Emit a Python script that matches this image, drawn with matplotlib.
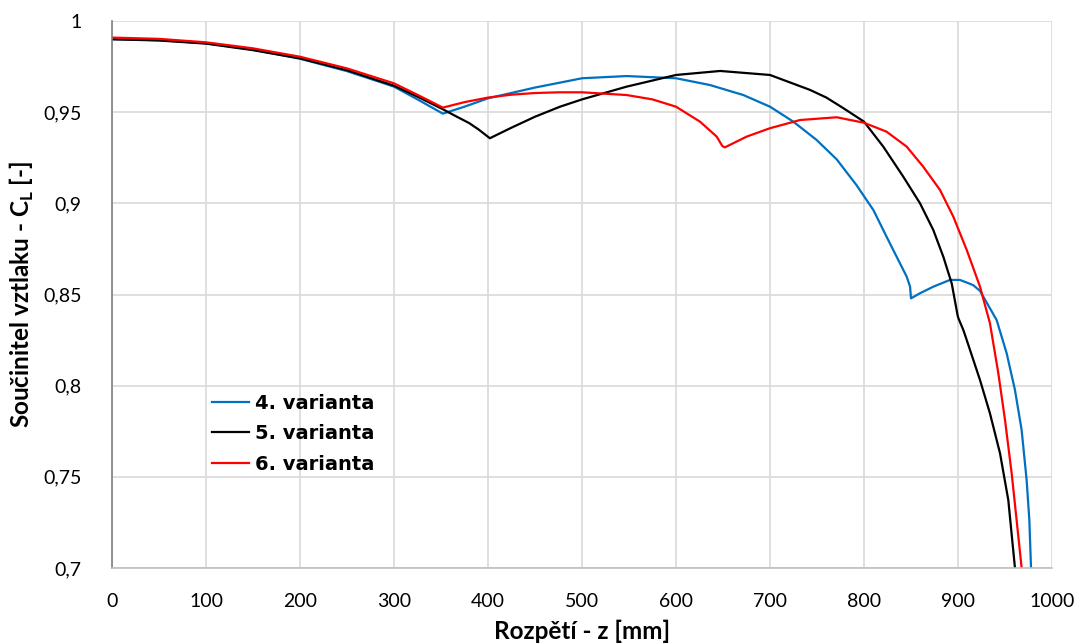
import matplotlib
matplotlib.use("Agg")
import matplotlib.pyplot as plt
from matplotlib.ticker import FixedLocator

# ---- data ----
x_v4 = [0, 50, 100, 150, 200, 250, 300, 325, 352, 375, 400, 450, 476.6, 500, 547.5, 600, 636,
        671.6, 700, 724.8, 749.7, 771, 792, 810, 824, 836.5, 845.4, 849, 850, 859.6, 873.8,
        891.5, 902, 916, 923.4, 941.1, 951.8, 960.6, 967.7, 973, 975.9, 977.7]
y_v4 = [0.990, 0.9895, 0.9878, 0.9843, 0.9793, 0.9725, 0.964, 0.957, 0.9492, 0.953, 0.9576,
        0.9635, 0.9662, 0.9686, 0.9698, 0.9686, 0.9649, 0.9594, 0.953, 0.9448, 0.9347, 0.9241,
        0.910, 0.8963, 0.8817, 0.8689, 0.8598, 0.8543, 0.8479, 0.8507, 0.8543, 0.858, 0.858,
        0.8552, 0.852, 0.836, 0.8177, 0.7976, 0.7757, 0.7483, 0.7263, 0.700]

x_v5 = [0, 50, 100, 150, 200, 250, 300, 325, 352, 365, 380, 390, 402, 425, 450, 476.6, 500,
        547.5, 600, 647, 700, 742.6, 760, 778, 800, 820.5, 841.8, 859.6, 873.7, 884.4, 893.3,
        897.9, 899.6, 900.4, 905.7, 909.3, 923.4, 934, 944.7, 953.5, 960.6]
y_v5 = [0.990, 0.9893, 0.9876, 0.984, 0.9795, 0.973, 0.9645, 0.9585, 0.9516, 0.948, 0.944,
        0.9405, 0.9357, 0.9415, 0.9475, 0.953, 0.957, 0.964, 0.9704, 0.9726, 0.9704, 0.9622,
        0.958, 0.9522, 0.9448, 0.9311, 0.9146, 0.900, 0.8854, 0.8707, 0.8561, 0.8433, 0.8385,
        0.837, 0.8305, 0.825, 0.8031, 0.7848, 0.7629, 0.7373, 0.700]

x_v6 = [0, 50, 100, 150, 200, 250, 300, 325, 352, 375, 400, 425, 450, 476.6, 500, 547.5, 575,
        600, 625.5, 643.3, 649.3, 652, 675.2, 700, 732, 771, 800, 824, 845.4, 863, 880.9, 895,
        909.3, 923.4, 934, 942.9, 950, 957.1, 963.1, 967.7]
y_v6 = [0.9909, 0.9902, 0.9883, 0.985, 0.9804, 0.974, 0.9658, 0.9595, 0.9525, 0.9555, 0.958,
        0.9596, 0.9605, 0.9609, 0.9609, 0.9594, 0.957, 0.953, 0.9448, 0.9366, 0.9314, 0.9307,
        0.9366, 0.9412, 0.9457, 0.9472, 0.9442, 0.9393, 0.9311, 0.9201, 0.9073, 0.8927, 0.8744,
        0.8543, 0.8342, 0.8068, 0.7812, 0.7519, 0.7226, 0.700]

series_labels = ["4. varianta", "5. varianta", "6. varianta"]
series_colors = ["#0070C0", "#000000", "#FF0000"]

x_ticks = [0, 100, 200, 300, 400, 500, 600, 700, 800, 900, 1000]
y_ticks = [0.7, 0.75, 0.8, 0.85, 0.9, 0.95, 1.0]
y_tick_labels = ["0,7", "0,75", "0,8", "0,85", "0,9", "0,95", "1"]

# ---- figure ----
fig = plt.figure(figsize=(10.82, 6.44), dpi=100)
ax = fig.add_axes([112 / 1082, 76 / 644, 940 / 1082, 547 / 644])

for xs, ys, lab, col in zip([x_v4, x_v5, x_v6], [y_v4, y_v5, y_v6], series_labels, series_colors):
    ax.plot(xs, ys, color=col, lw=1.6, label=lab, solid_joinstyle="round")

ax.set_xlim(0, 1000)
ax.set_ylim(0.7, 1.0)
ax.xaxis.set_major_locator(FixedLocator(x_ticks))
ax.yaxis.set_major_locator(FixedLocator(y_ticks))
ax.set_yticklabels(y_tick_labels)
ax.set_xticklabels([str(t) for t in x_ticks])

ax.grid(True, color="#d9d9d9", lw=1.2)
ax.set_axisbelow(True)
for s in ["top", "right"]:
    ax.spines[s].set_visible(False)
ax.spines["left"].set_color("#808080")
ax.spines["bottom"].set_color("#bfbfbf")
ax.spines["left"].set_linewidth(1.2)
ax.spines["bottom"].set_linewidth(1.2)
ax.tick_params(length=0, labelsize=14)
ax.tick_params(axis="x", pad=18)
ax.tick_params(axis="y", pad=22)
for lbl in ax.get_xticklabels() + ax.get_yticklabels():
    lbl.set_family("Lato")

ax.set_xlabel("Rozpětí - z [mm]", fontsize=17.5, fontweight="bold", family="Lato", labelpad=7)
ax.set_ylabel("Součinitel vztlaku - C$_\\mathregular{L}$ [-]", fontsize=17.5,
              fontweight="bold", family="Lato", labelpad=5)

leg = ax.legend(loc="lower left", bbox_to_anchor=(0.088, 0.14), frameon=False,
                prop={"weight": "bold", "size": 14, "family": "DejaVu Sans"},
                handlelength=1.9, handletextpad=0.3, labelspacing=0.6)

fig.savefig("out.png", dpi=100)
